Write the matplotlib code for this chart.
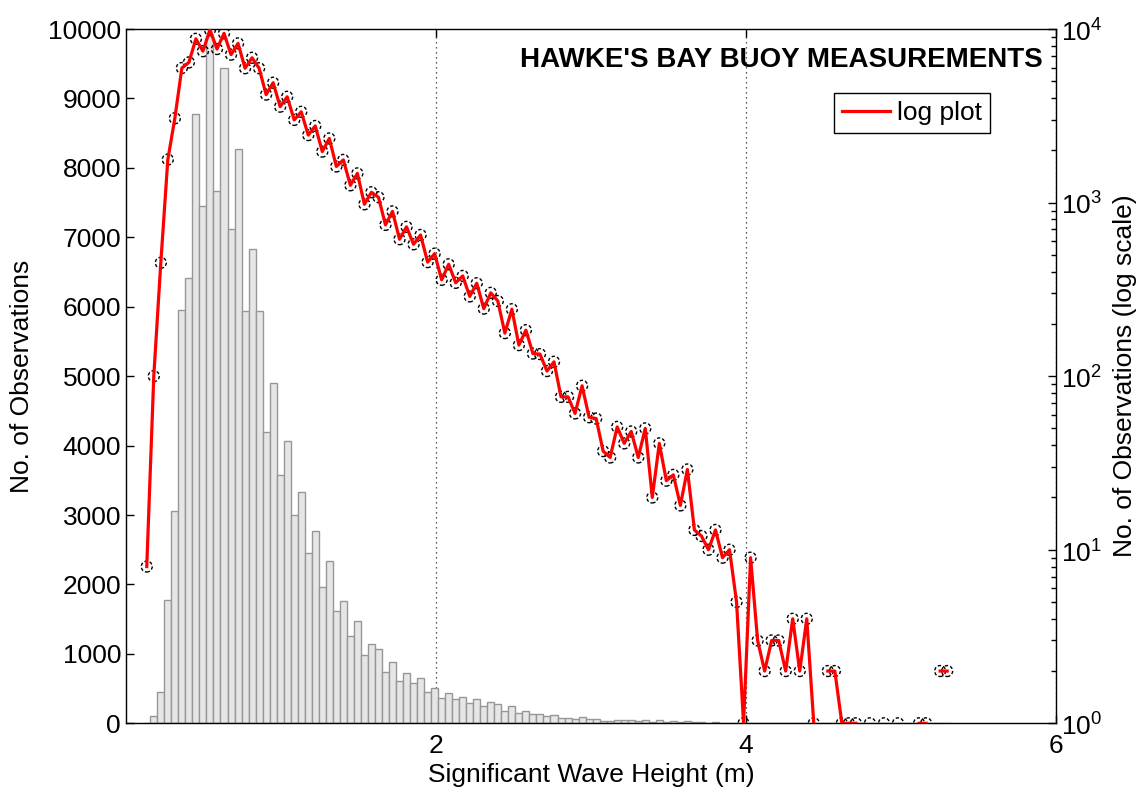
import numpy as np
import matplotlib
matplotlib.use("Agg")
import matplotlib.pyplot as plt
from matplotlib.ticker import FixedLocator, LogLocator, NullFormatter, FixedFormatter

plt.rcParams['font.family'] = ['Liberation Sans', 'DejaVu Sans']
plt.rcParams['mathtext.fontset'] = 'custom'
plt.rcParams['mathtext.rm'] = 'Liberation Sans'

# Histogram of significant wave height: range of the data and number of bins
hs_min = 0.1116
hs_max = 5.3211
n_bins = 115

# Observations per bin
counts = [
    8, 100, 450, 1770, 3060, 5960, 6420, 8780, 7450, 9900,
    7670, 9440, 7120, 8265, 5945, 6830, 5945, 4190, 4905, 3570,
    4070, 2995, 3335, 2448, 2765, 1967, 2342, 1615, 1762, 1258,
    1473, 978, 1147, 1074, 744, 890, 615, 725, 575, 651,
    454, 508, 359, 441, 345, 378, 288, 343, 245, 302,
    271, 177, 243, 151, 184, 135, 134, 107, 121, 76,
    76, 61, 88, 58, 57, 37, 34, 51, 41, 48,
    34, 50, 20, 41, 25, 27, 18, 29, 13, 12,
    10, 13, 9, 10, 5, 1, 9, 3, 2, 3,
    3, 2, 4, 2, 4, 1, 0, 2, 2, 1,
    1, 1, 0, 1, 0, 1, 0, 1, 0, 0,
    1, 1, 0, 2, 2,
]

x_ticks = [2, 4, 6]
left_ticks = list(range(0, 10001, 1000))
title_text = "HAWKE'S BAY BUOY MEASUREMENTS"

edges = np.linspace(hs_min, hs_max, n_bins + 1)
centers = 0.5 * (edges[:-1] + edges[1:])
width = edges[1] - edges[0]
counts = np.array(counts, dtype=float)

fig = plt.figure(figsize=(11.45, 7.93), dpi=100)
ax = fig.add_axes([0.1100, 0.0879, 0.8122, 0.8755])

# linear histogram
ax.bar(centers, counts, width=width, color='#e6e6e6', edgecolor='#979797',
       linewidth=1.0, zorder=2)
ax.set_xlim(0, 6)
ax.set_ylim(0, 10000)
ax.set_axisbelow(True)
ax.xaxis.set_major_locator(FixedLocator(x_ticks))
ax.yaxis.set_major_locator(FixedLocator(left_ticks))
ax.grid(axis='x', linestyle=(0, (1, 3)), color='#222222', linewidth=0.9)
ax.tick_params(axis='both', direction='in', length=6, width=1, labelsize=19,
               top=True, colors='black')
ax.tick_params(axis='x', pad=8)
ax.set_xlabel('Significant Wave Height (m)', fontsize=19, labelpad=3)
ax.set_ylabel('No. of Observations', fontsize=19, labelpad=10)
for s in ax.spines.values():
    s.set_linewidth(1.0)
    s.set_color('#333333')

# log-scale counts on the right axis
ax2 = ax.twinx()
ax2.set_yscale('log')
ax2.set_ylim(1, 1e4)
ax2.set_xlim(0, 6)
log_counts = np.where(counts > 0, counts, np.nan)
ax2.scatter(centers, log_counts, s=62, facecolors='none', edgecolors='black',
            linewidths=1.0, linestyles=(0, (2.4, 1.5)), zorder=3)
ax2.plot(centers, log_counts, color='#ff0000', linewidth=2.3, zorder=4,
         label='log plot')
ax2.yaxis.set_major_locator(FixedLocator([1, 10, 100, 1000, 10000]))
ax2.yaxis.set_major_formatter(FixedFormatter(
    [r'$10^{0}$', r'$10^{1}$', r'$10^{2}$', r'$10^{3}$', r'$10^{4}$']))
ax2.yaxis.set_minor_locator(LogLocator(base=10, subs=np.arange(2, 10)))
ax2.yaxis.set_minor_formatter(NullFormatter())
ax2.tick_params(axis='y', which='major', direction='in', length=6, width=1,
                labelsize=19)
ax2.tick_params(axis='y', which='minor', direction='in', length=3.5, width=1)
ax2.set_ylabel('No. of Observations (log scale)', fontsize=19, labelpad=8)

ax2.text(0.986, 0.955, title_text, transform=ax2.transAxes, ha='right',
         va='center', fontsize=20, fontweight='bold')

leg = ax2.legend(loc='upper right', bbox_to_anchor=(0.9295, 0.908),
                 borderaxespad=0, fontsize=19, fancybox=False, framealpha=1,
                 edgecolor='black', handlelength=1.8, handletextpad=0.3,
                 borderpad=0.3)
leg.get_frame().set_linewidth(1.0)

fig.savefig('out.png', dpi=100)
